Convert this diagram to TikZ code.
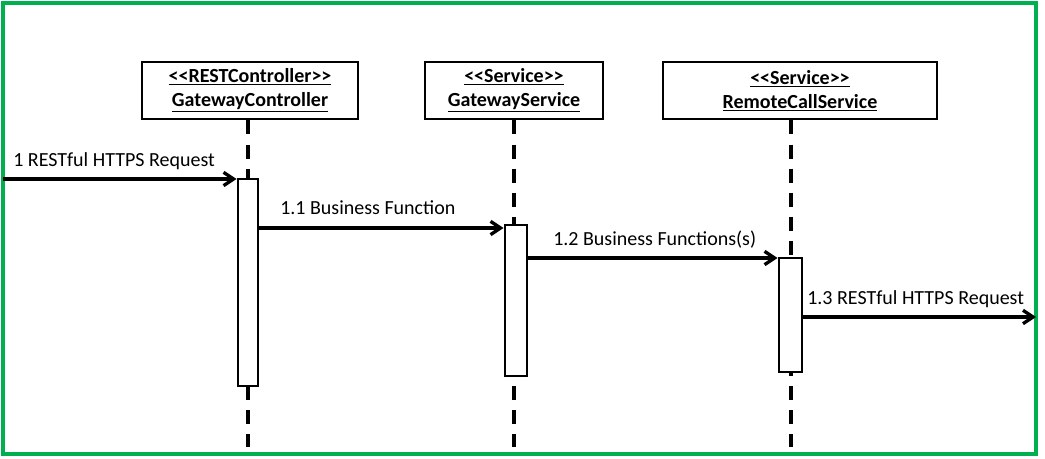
\documentclass[tikz,border=0pt]{standalone}
\usepackage{fontspec}
\setmainfont{Carlito}
\usetikzlibrary{arrows.meta}
\definecolor{framegreen}{RGB}{0,176,80}
\newcommand{\stereotype}[1]{<\kern0pt<#1>\kern0pt>}

\begin{document}
\begin{tikzpicture}[x=0.75pt, y=-0.75pt,
    header/.style={draw, line width=2.2pt, align=center, inner sep=0pt,
      minimum height=42.75pt, font=\fontsize{15}{17}\selectfont\bfseries},
    lifeline/.style={line width=2.6pt, dash pattern=on 10.5pt off 7.6pt},
    activation/.style={draw, fill=white, line width=2.2pt, inner sep=0pt},
    msg/.style={line width=2.5pt, -{Straight Barb[length=7.5pt, width=10pt, line width=2.5pt]}},
    msglabel/.style={anchor=base west, inner sep=0pt, font=\fontsize{15}{17}\selectfont}]
  \useasboundingbox (0,0) rectangle (1045,459);
  \draw[framegreen, line width=2.4pt] (3,3) rectangle (1036,454);

  % lifeline heads
  \node[header, minimum width=162pt] (GC) at (250,90.5) {\underline{\stereotype{RESTController}}\\[1pt]\underline{GatewayController}};
  \node[header, minimum width=133.5pt] (GS) at (514,90.5) {\underline{\stereotype{Service}}\\[1pt]\underline{GatewayService}};
  \node[header, minimum width=205.5pt] (RC) at (800,90.5) {\underline{\stereotype{Service}}\\[1pt]\underline{RemoteCallService}};

  % lifelines
  \coordinate (GCend) at (248,447);
  \coordinate (GSend) at (514,447);
  \coordinate (RCend) at (791,447);
  \draw[lifeline] (GC.south -| GCend) -- (GCend);
  \draw[lifeline] (GS.south -| GSend) -- (GSend);
  \draw[lifeline] (RC.south -| RCend) -- (RCend);

  % activations
  \node[activation, minimum width=15pt, minimum height=155.25pt] (GCact) at (248,282.5) {};
  \node[activation, minimum width=16.5pt, minimum height=113.25pt] (GSact) at (516,300.5) {};
  \node[activation, minimum width=17.25pt, minimum height=85.5pt] (RCact) at (790.5,315) {};

  % messages
  \coordinate (client) at (3,179);
  \coordinate (m2y) at (0,228);
  \coordinate (m3y) at (0,258);
  \coordinate (remote) at (1036,317);
  \draw[msg] (client) -- (client -| GCact.west);
  \draw[msg] (GCact.east |- m2y) -- (GSact.west |- m2y);
  \draw[msg] (GSact.east |- m3y) -- (RCact.west |- m3y);
  \draw[msg] (RCact.east |- remote) -- (remote);
  \node[msglabel] (m1) at (13,167) {1 RESTful HTTPS Request};
  \node[msglabel] (m2) at (280,215) {1.1 Business Function};
  \node[msglabel] (m3) at (553,246) {1.2 Business Functions(s)};
  \node[msglabel] (m4) at (807,305) {1.3 RESTful HTTPS Request};
\end{tikzpicture}
\end{document}
